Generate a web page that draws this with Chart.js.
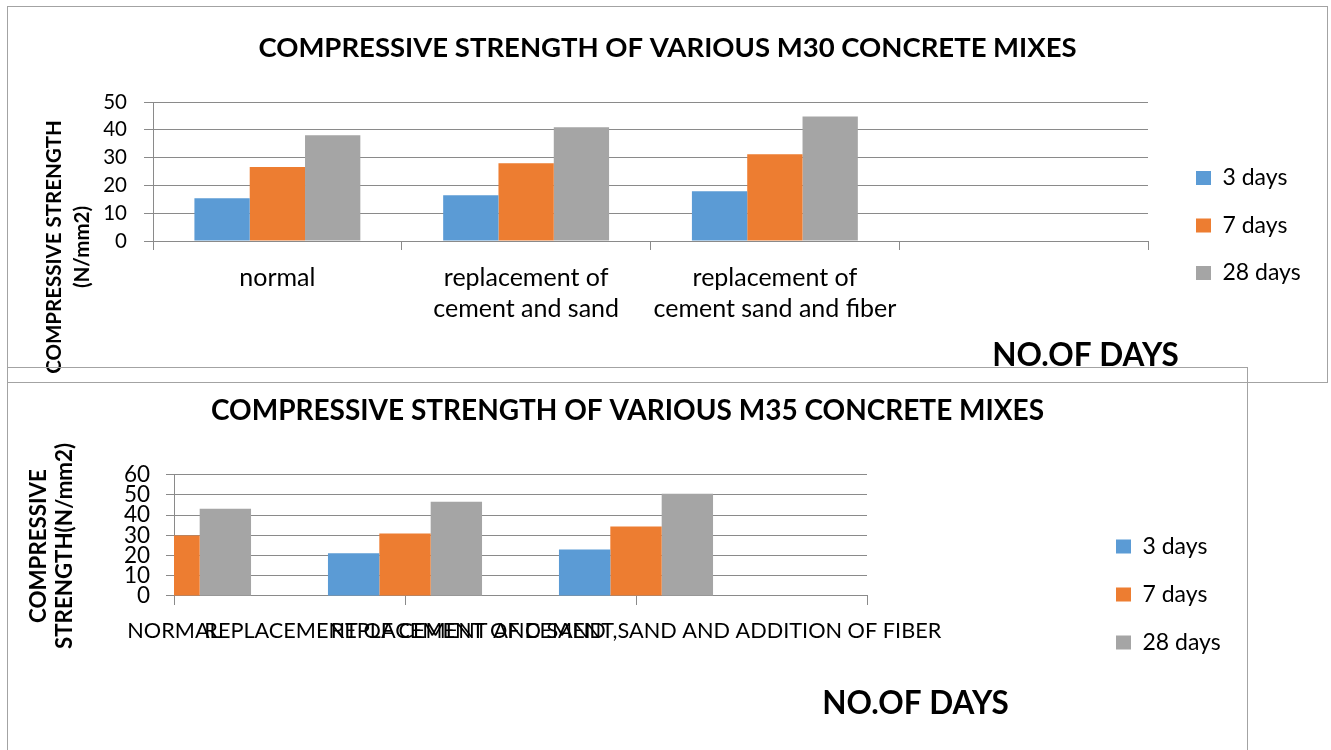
<!DOCTYPE html>
<html><head><meta charset="utf-8">
<script src="https://cdn.jsdelivr.net/npm/chart.js@4.4.1/dist/chart.umd.min.js"></script>
<style>
html,body{margin:0;padding:0;background:#fff;width:1331px;height:750px;overflow:hidden;}
.box{position:absolute;border:1px solid #a3a3a3;}
#b1{left:7px;top:6px;width:1319px;height:375px;z-index:1;background:#fff;}
#b2{left:7px;top:367px;width:1239px;height:400px;z-index:2;background:transparent;}
canvas{display:block;}
</style></head><body>
<div class="box" id="b1"><canvas id="c1" width="1319" height="375"></canvas></div>
<div class="box" id="b2"><canvas id="c2" width="1239" height="400"></canvas></div>
<script>
// ---------- data ----------
const seriesNames = ['3 days', '7 days', '28 days'];
const seriesColors = ['#5B9BD5', '#ED7D31', '#A5A5A5'];

const m30Title = 'COMPRESSIVE STRENGTH OF VARIOUS M30 CONCRETE MIXES';
const m30Categories = ['normal', ['replacement of', 'cement and sand'], ['replacement of', 'cement sand and fiber'], ''];
const m30Day3 = [15.4, 16.5, 17.9, null];
const m30Day7 = [26.6, 28.0, 31.2, null];
const m30Day28 = [38.0, 40.9, 44.8, null];
const m30Ticks = [0, 10, 20, 30, 40, 50];
const m30YTitle = ['COMPRESSIVE STRENGTH', '(N/mm2)'];

const m35Title = 'COMPRESSIVE STRENGTH OF VARIOUS M35 CONCRETE MIXES';
const m35Categories = ['NORMAL', 'REPLACEMENT OF CEMENT AND SAND', 'REPLACEMENT OF CEMENT,SAND AND ADDITION OF FIBER', ''];
const m35Day3 = [20.0, 21.1, 23.0, null];
const m35Day7 = [29.9, 30.9, 34.3, null];
const m35Day28 = [43.1, 46.6, 50.5, null];
const m35Ticks = [0, 10, 20, 30, 40, 50, 60];
const m35YTitle = ['COMPRESSIVE', 'STRENGTH(N/mm2)'];

const xTitle = 'NO.OF DAYS';

// ---------- helpers ----------
Chart.defaults.font.family = 'Lato';
Chart.defaults.color = '#000';
const gridColor = '#8a8a8a';

function pinPlugin(legendWidth, boxX, centerY) {
  return {
    id: 'pin',
    beforeUpdate(chart) {
      const lg = chart.legend;
      if (lg && !lg.__pinned) {
        const fit = lg.fit.bind(lg);
        lg.fit = function () { fit(); this.width = legendWidth; };
        lg.__pinned = true;
      }
    },
    afterLayout(chart) {
      const lg = chart.legend;
      const p = lg.options.labels.padding;
      const dx = boxX - p - lg.left;
      lg.left += dx; lg.right += dx;
      const h = lg.bottom - lg.top;
      lg.top = centerY - h / 2; lg.bottom = lg.top + h;
    }
  };
}

function textPlugin(items) {
  return {
    id: 'freeText',
    afterDraw(chart) {
      const ctx = chart.ctx;
      for (const t of items) {
        ctx.save();
        ctx.translate(t.x, t.y);
        if (t.rotate) ctx.rotate(t.rotate * Math.PI / 180);
        ctx.font = t.font;
        ctx.fillStyle = '#000';
        ctx.textAlign = 'center';
        ctx.textBaseline = 'middle';
        ctx.fillText(t.text, 0, 0);
        ctx.restore();
      }
    }
  };
}

function datasets(a, b, c) {
  return [a, b, c].map((d, i) => ({
    label: seriesNames[i], data: d, backgroundColor: seriesColors[i],
    borderWidth: 0, clip: 0, categoryPercentage: 0.667, barPercentage: 1
  }));
}

// ---------- chart 1 (M30) ----------
new Chart(document.getElementById('c1'), {
  type: 'bar',
  data: { labels: m30Categories, datasets: datasets(m30Day3, m30Day7, m30Day28) },
  options: {
    responsive: false, animation: false,
    layout: { padding: 0 },
    plugins: {
      title: { display: true, text: m30Title, color: '#000',
        font: { size: 27.5, weight: 'bold' }, padding: { top: 25, bottom: 37 } },
      legend: { position: 'right',
        labels: { boxWidth: 15, boxHeight: 14, padding: 24.5, color: '#000', font: { size: 23 } } },
      tooltip: { enabled: false }
    },
    scales: {
      x: {
        offset: true,
        grid: { offset: true, drawOnChartArea: false, tickLength: 9, color: gridColor },
        border: { color: gridColor },
        ticks: { autoSkip: false, maxRotation: 0, minRotation: 0, padding: 12, color: '#000',
          font: { size: 25, lineHeight: 1.24 } },
        afterFit(s) { s.height = 141; }
      },
      y: {
        min: 0, max: 50,
        grid: { color: gridColor, tickLength: 9 },
        border: { color: gridColor },
        ticks: { autoSkip: false, padding: 17, color: '#000', font: { size: 20.5 } },
        afterBuildTicks(s) { s.ticks = m30Ticks.map(v => ({ value: v })); },
        afterFit(s) { s.width = 145; }
      }
    }
  },
  plugins: [
    pinPlugin(179, 1188, 218.5),
    textPlugin([
      { text: m30YTitle[0], x: 46.5, y: 240, rotate: -90, font: 'bold 20.5px Lato' },
      { text: m30YTitle[1], x: 74.5, y: 240, rotate: -90, font: 'bold 20.5px Lato' },
      { text: xTitle, x: 1077.5, y: 349, font: 'bold 31.5px Lato' }
    ])
  ]
});

// ---------- chart 2 (M35) ----------
new Chart(document.getElementById('c2'), {
  type: 'bar',
  data: { labels: m35Categories, datasets: datasets(m35Day3, m35Day7, m35Day28) },
  options: {
    responsive: false, animation: false,
    layout: { padding: 0 },
    plugins: {
      title: { display: true, text: m35Title, color: '#000',
        font: { size: 28, weight: 'bold' }, padding: { top: 26, bottom: 47 } },
      legend: { position: 'right',
        labels: { boxWidth: 15, boxHeight: 14, padding: 25, color: '#000', font: { size: 23 } } },
      tooltip: { enabled: false }
    },
    scales: {
      x: {
        offset: false,
        grid: { offset: false, drawOnChartArea: false, tickLength: 9, color: gridColor },
        border: { color: gridColor },
        ticks: { autoSkip: false, maxRotation: 0, minRotation: 0, padding: 13, color: '#000',
          font: { size: 21.7 } },
        afterFit(s) { s.height = 172; }
      },
      y: {
        min: 0, max: 60,
        grid: { color: gridColor, tickLength: 8 },
        border: { color: gridColor },
        ticks: { autoSkip: false, padding: 16, color: '#000', font: { size: 22.5, lineHeight: 1 } },
        afterBuildTicks(s) { s.ticks = m35Ticks.map(v => ({ value: v })); },
        afterFit(s) { s.width = 166; }
      }
    }
  },
  plugins: [
    pinPlugin(380, 1108, 226.5),
    textPlugin([
      { text: m35YTitle[0], x: 30.5, y: 178, rotate: -90, font: 'bold 22.3px Lato' },
      { text: m35YTitle[1], x: 57, y: 178, rotate: -90, font: 'bold 22.3px Lato' },
      { text: xTitle, x: 907.5, y: 335.5, font: 'bold 31.5px Lato' }
    ])
  ]
});
</script></body></html>
